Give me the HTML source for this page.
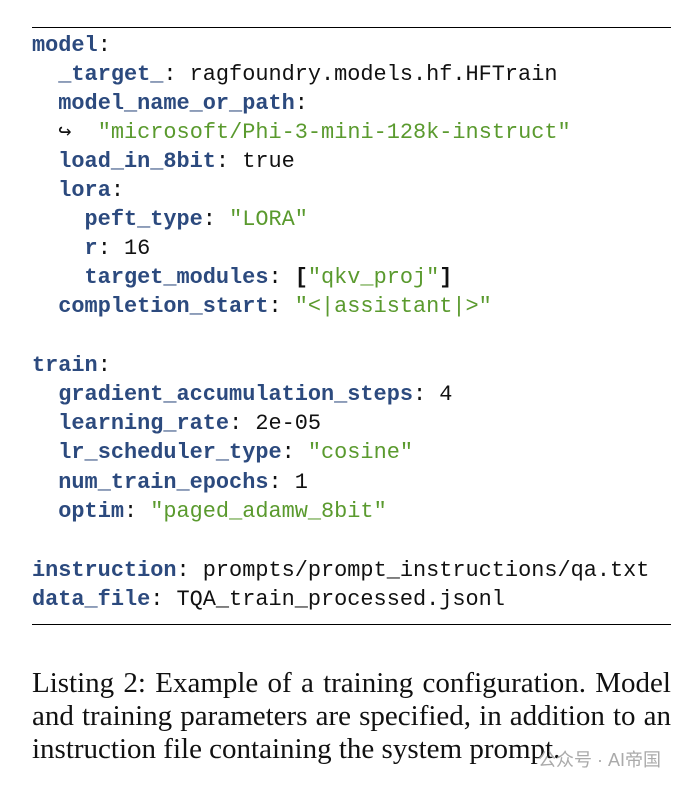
<!DOCTYPE html>
<html><head><meta charset="utf-8"><style>
body{margin:0;width:687px;height:785px;background:#fff;position:relative;overflow:hidden}
.r{position:absolute;left:32px;width:639px;height:1.3px;background:#000}
.l{position:absolute;left:32px;font-family:"Liberation Mono",monospace;font-size:21.9px;line-height:29px;height:29px;white-space:pre;color:#111}
.k{color:#2c4a7e;font-weight:bold}
.s{color:#5a9a2e}
.c{position:absolute;left:32px;width:639px;font-family:"Liberation Serif",serif;font-size:29px;line-height:33px;height:33px;text-align:justify;text-align-last:justify;color:#111;white-space:nowrap}
.c.n{text-align-last:left}
.w{position:absolute;left:538px;top:746px;font-family:"Liberation Sans","Noto Sans CJK SC",sans-serif;font-size:18px;color:#aaa}
</style></head><body>
<div class="r" style="top:27px"></div>
<div class="l" style="top:31px"><span class="k">model</span>:</div>
<div class="l" style="top:60px">  <span class="k">_target_</span>: ragfoundry.models.hf.HFTrain</div>
<div class="l" style="top:89px">  <span class="k">model_name_or_path</span>:</div>
<div class="l" style="top:118px">  ↪  <span class="s">"microsoft/Phi-3-mini-128k-instruct"</span></div>
<div class="l" style="top:147px">  <span class="k">load_in_8bit</span>: true</div>
<div class="l" style="top:176px">  <span class="k">lora</span>:</div>
<div class="l" style="top:205px">    <span class="k">peft_type</span>: <span class="s">"LORA"</span></div>
<div class="l" style="top:234px">    <span class="k">r</span>: 16</div>
<div class="l" style="top:263px">    <span class="k">target_modules</span>: <b>[</b><span class="s">"qkv_proj"</span><b>]</b></div>
<div class="l" style="top:292px">  <span class="k">completion_start</span>: <span class="s">"&lt;|assistant|&gt;"</span></div>
<div class="l" style="top:351px"><span class="k">train</span>:</div>
<div class="l" style="top:380px">  <span class="k">gradient_accumulation_steps</span>: 4</div>
<div class="l" style="top:409px">  <span class="k">learning_rate</span>: 2e-05</div>
<div class="l" style="top:438px">  <span class="k">lr_scheduler_type</span>: <span class="s">"cosine"</span></div>
<div class="l" style="top:468px">  <span class="k">num_train_epochs</span>: 1</div>
<div class="l" style="top:497px">  <span class="k">optim</span>: <span class="s">"paged_adamw_8bit"</span></div>
<div class="l" style="top:556px"><span class="k">instruction</span>: prompts/prompt_instructions/qa.txt</div>
<div class="l" style="top:585px"><span class="k">data_file</span>: TQA_train_processed.jsonl</div>
<div class="r" style="top:624px"></div>
<div class="c" style="top:667px">Listing 2: Example of a training configuration. Model</div>
<div class="c" style="top:700px">and training parameters are specified, in addition to an</div>
<div class="c n" style="top:733px">instruction file containing the system prompt.</div>
<div class="w">公众号 · AI帝国</div>
</body></html>
